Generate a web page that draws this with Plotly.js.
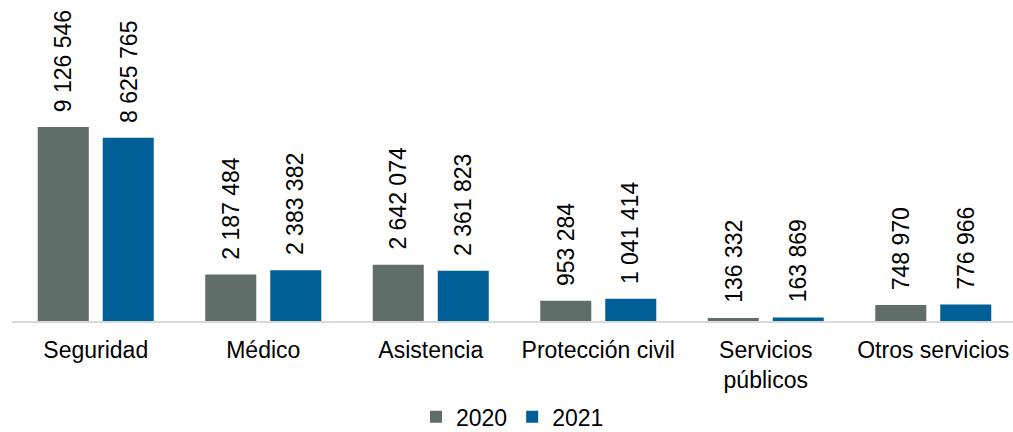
<!DOCTYPE html>
<html>
<head>
<meta charset="utf-8">
<script src="https://cdn.plot.ly/plotly-3.0.1.min.js"></script>
<style>html,body{margin:0;padding:0;background:#fff;}#chart{width:1013px;height:432px;}</style>
</head>
<body>
<div id="chart"></div>
<script>
const categories = ["Seguridad", "Médico", "Asistencia", "Protección civil", "Servicios<br>públicos", "Otros servicios"];
const values2020 = [9126546, 2187484, 2642074, 953284, 136332, 748970];
const values2021 = [8625765, 2383382, 2361823, 1041414, 163869, 776966];
const seriesNames = ["2020", "2021"];
const colors = ["#5f6e68", "#005f96"];

function fmt(v) {
  return String(v).replace(/\B(?=(\d{3})+(?!\d))/g, " ");
}

const idx = categories.map((c, i) => i);
const traces = [values2020, values2021].map((vals, s) => ({
  type: "bar",
  x: idx,
  y: vals,
  name: seriesNames[s],
  marker: {color: colors[s], line: {width: 0}},
  hoverinfo: "skip"
}));

const bargap = 0.224, bargroupgap = 0.215;
const slot = (1 - bargap) / 2;
const annotations = [];
[values2020, values2021].forEach((vals, s) => {
  vals.forEach((v, i) => {
    annotations.push({
      x: i + (s === 0 ? -slot / 2 : slot / 2),
      y: v,
      xref: "x", yref: "y",
      text: fmt(v),
      textangle: -90,
      showarrow: false,
      xanchor: "center",
      yanchor: "bottom",
      yshift: 13,
      font: {family: "Liberation Sans, Arial, sans-serif", size: 23, color: "#000"}
    });
  });
});

const layout = {
  width: 1013, height: 432,
  margin: {l: 12, r: 0, t: 0, b: 111, autoexpand: false},
  paper_bgcolor: "#fff", plot_bgcolor: "#fff",
  barmode: "group",
  bargap: bargap, bargroupgap: bargroupgap,
  font: {family: "Liberation Sans, Arial, sans-serif", size: 23, color: "#000"},
  xaxis: {
    type: "linear",
    range: [-0.5, 5.476],
    tickmode: "array",
    tickvals: idx,
    ticktext: categories,
    showgrid: false, zeroline: false,
    showline: true, linecolor: "#d9d9d9", linewidth: 1.5,
    ticks: "", ticklabelstandoff: 8,
    tickfont: {size: 23, color: "#000"},
    automargin: false,
    fixedrange: true
  },
  yaxis: {
    range: [0, 15101000],
    visible: false, showgrid: false, zeroline: false,
    automargin: false,
    fixedrange: true
  },
  showlegend: true,
  legend: {
    orientation: "h", x: 0.5, xanchor: "center",
    yref: "container", y: 0.035, yanchor: "middle",
    font: {size: 23, color: "#000"},
    itemclick: false, itemdoubleclick: false,
    tracegroupgap: 0
  },
  annotations: annotations
};

Plotly.newPlot("chart", traces, layout, {displayModeBar: false, staticPlot: true});
</script>
</body>
</html>
